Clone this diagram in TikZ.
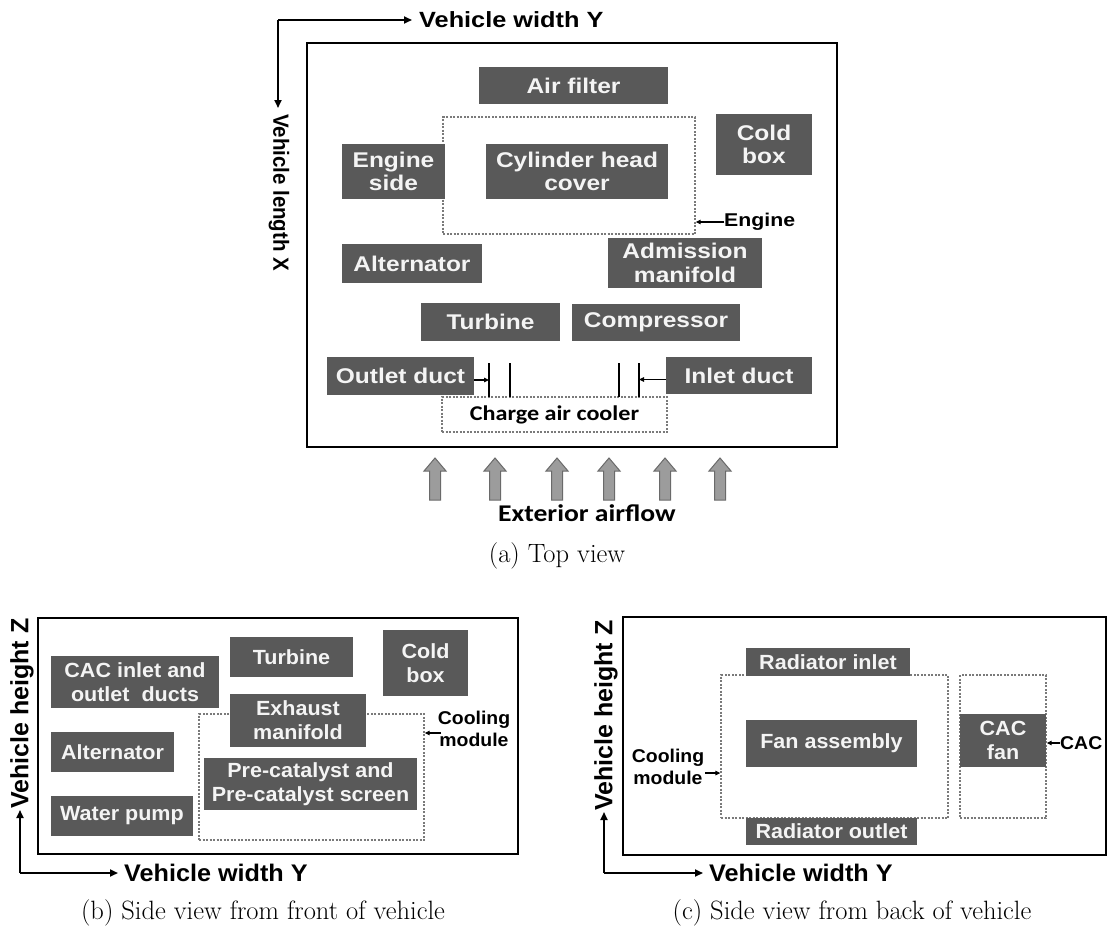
\documentclass[tikz,border=0pt]{standalone}
\usepackage{fontspec}
\usetikzlibrary{arrows.meta}
\newfontfamily\topfont{Liberation Sans}[FakeStretch=1.15]
\newfontfamily\sidefont{Liberation Sans}[FakeStretch=1.05]
\newfontfamily\rotfont{Liberation Sans}[FakeStretch=0.93]
\newfontfamily\plainsans{Liberation Sans}
\newfontfamily\calfont{Carlito}[FakeStretch=1.15]
\definecolor{boxgray}{HTML}{595959}
\definecolor{boxtext}{HTML}{F4F4F4}
\definecolor{dashgray}{HTML}{7A7A7A}
\definecolor{arrowgray}{HTML}{9C9C9C}
\definecolor{arrowedge}{HTML}{6A6A6A}
\tikzset{
  box/.style={fill=boxgray, text=boxtext, inner sep=0pt, align=center},
  topbox/.style={box, font=\topfont\bfseries\fontsize{21.3}{23.5}\selectfont},
  sidebox/.style={box, font=\sidefont\bfseries\fontsize{20.5}{24}\selectfont},
  dashbox/.style={draw=dashgray, line width=1.3pt, dash pattern=on 2pt off 1.5pt, inner sep=0pt},
  frame/.style={draw=black, line width=2.6pt, inner sep=0pt},
  axis/.style={line width=1.8pt, -{Triangle[length=8pt,width=7pt]}},
  ptr/.style={line width=1.2pt, -{Triangle[length=5pt,width=4.5pt]}},
  toplab/.style={font=\topfont\bfseries\fontsize{22}{25}\selectfont, inner sep=0pt},
  toprot/.style={font=\rotfont\bfseries\fontsize{22}{25}\selectfont, inner sep=0pt},
  sidelab/.style={font=\sidefont\bfseries\fontsize{24}{27}\selectfont, inner sep=0pt},
  siderot/.style={font=\plainsans\bfseries\fontsize{25}{28}\selectfont, inner sep=0pt},
  smalllab/.style={font=\sidefont\bfseries\fontsize{18.5}{22}\selectfont, inner sep=0pt, align=center},
  caltext/.style={font=\calfont\bfseries\fontsize{21}{25}\selectfont, inner sep=0pt},
  caption/.style={font=\fontsize{26.5}{30}\selectfont, inner sep=0pt},
  duct/.style={line width=1.6pt}
}
\begin{document}
\begin{tikzpicture}[x=1pt,y=-1pt]
\useasboundingbox (0,0) rectangle (1108,929);

% ================= (a) Top view =================
\node[frame, minimum width=530, minimum height=404] (outerA) at (572,245) {};
\coordinate (axA) at (278,20);
\draw[axis] (axA) -- (412,20);
\draw[axis] (axA) -- (278,108);
\node[toplab, anchor=west] (wA) at (419,20) {Vehicle width Y};
\node[toprot, anchor=west, rotate=-90] (lA) at (279,114) {Vehicle length X};

\node[dashbox, minimum width=252, minimum height=117] (engine) at (569,175.5) {};
\node[topbox, minimum width=189, minimum height=37] (airfilter) at (573.5,85.5) {Air filter};
\node[topbox, minimum width=103, minimum height=55] (engside) at (393.5,171.5) {Engine\\side};
\node[topbox, minimum width=182, minimum height=55] (cyl) at (577,171.5) {Cylinder head\\cover};
\node[topbox, minimum width=96, minimum height=61] (coldA) at (764,144.5) {Cold\\box};
\node[font=\topfont\bfseries\fontsize{18.5}{22}\selectfont, inner sep=0pt, anchor=west] (englab) at (724,222) {Engine};
\draw[ptr] (englab.west) -- (englab.west -| engine.east);
\node[topbox, minimum width=140, minimum height=39] (altA) at (412,263.5) {Alternator};
\node[topbox, minimum width=154, minimum height=50] (adm) at (685,263) {Admission\\manifold};
\node[topbox, minimum width=139, minimum height=38] (turbA) at (490.5,322) {Turbine};
\node[topbox, minimum width=168, minimum height=37] (comp) at (656,322.5) {Compressor};
\node[topbox, minimum width=147, minimum height=38] (outlet) at (400.5,376) {Outlet duct};
\node[topbox, minimum width=146, minimum height=37] (inlet) at (739,375.5) {Inlet duct};
\node[dashbox, minimum width=225, minimum height=35, caltext] (cac) at (554.5,414.5) {Charge air cooler};

\coordinate (d1t) at (489,363); \coordinate (d1b) at (489,397);
\coordinate (d2t) at (510,363); \coordinate (d2b) at (510,397);
\coordinate (d3t) at (619,363); \coordinate (d3b) at (619,397);
\coordinate (d4t) at (639,363); \coordinate (d4b) at (639,397);
\draw[duct] (d1t) -- (d1b);
\draw[duct] (d2t) -- (d2b);
\draw[duct] (d3t) -- (d3b);
\draw[duct] (d4t) -- (d4b);
\draw[ptr] ([yshift=-4pt]outlet.east) -- ([yshift=-4pt]outlet.east -| d1t);
\draw[ptr] ([yshift=-4pt]inlet.west) -- ([yshift=-4pt]inlet.west -| d4t);

\foreach \x in {435,495,557,609,665,720}{
  \draw[fill=arrowgray, draw=arrowedge, line width=1pt, line join=miter]
    (\x-5.5,500) -- (\x-5.5,471) -- (\x-11,471) -- (\x,458) -- (\x+11,471) -- (\x+5.5,471) -- (\x+5.5,500) -- cycle;
}
\node[caltext, font=\calfont\bfseries\fontsize{24}{28}\selectfont] (airflow) at (587,513) {Exterior airflow};
\node[caption] (capA) at (557,556) {(a) Top view};

% ================= (b) Side view from front =================
\node[frame, minimum width=480, minimum height=236] (outerB) at (278,736) {};
\coordinate (axB) at (20,873);
\draw[axis] (axB) -- (20,810);
\draw[axis] (axB) -- (118,873);
\node[sidelab, anchor=west] (wB) at (124,873) {Vehicle width Y};
\node[siderot, anchor=west, rotate=90] (hB) at (22,809) {Vehicle height Z};

\node[dashbox, minimum width=225, minimum height=126] (coolB) at (311.5,777) {};
\node[sidebox, minimum width=168, minimum height=52] (cacducts) at (135,682) {CAC inlet and\\outlet\ \ ducts};
\node[sidebox, minimum width=123, minimum height=40] (turbB) at (291.5,657) {Turbine};
\node[sidebox, minimum width=85, minimum height=66] (coldB) at (425.5,663) {Cold\\box};
\node[sidebox, minimum width=136, minimum height=53] (exh) at (298,720.5) {Exhaust\\manifold};
\node[sidebox, minimum width=123, minimum height=40] (altB) at (112.5,752) {Alternator};
\node[sidebox, minimum width=142, minimum height=40] (water) at (122,816) {Water pump};
\node[sidebox, minimum width=213, minimum height=52] (precat) at (310.5,784) {Pre-catalyst and\\Pre-catalyst screen};
\node[smalllab] (coolBlab) at (474,729) {Cooling\\module};
\coordinate (coolBarr) at (441,733);
\draw[ptr] (coolBarr) -- (coolBarr -| coolB.east);
\node[caption] (capB) at (263,913) {(b) Side view from front of vehicle};

% ================= (c) Side view from back =================
\node[frame, minimum width=483, minimum height=238] (outerC) at (864.5,736) {};
\coordinate (axC) at (604,873);
\draw[axis] (axC) -- (604,812);
\draw[axis] (axC) -- (703,873);
\node[sidelab, anchor=west] (wC) at (709,873) {Vehicle width Y};
\node[siderot, anchor=west, rotate=90] (hC) at (606,811) {Vehicle height Z};

\node[dashbox, minimum width=227, minimum height=143] (coolC) at (834.5,746.5) {};
\node[dashbox, minimum width=86, minimum height=143] (cacC) at (1003,746.5) {};
\node[sidebox, minimum width=164, minimum height=28] (radin) at (828,662) {Radiator inlet};
\node[sidebox, minimum width=171, minimum height=47] (fan) at (831.5,743.5) {Fan assembly};
\node[sidebox, minimum width=171, minimum height=27] (radout) at (831.5,831.5) {Radiator outlet};
\node[sidebox, minimum width=86, minimum height=53] (cacfan) at (1003,740.5) {CAC\\fan};
\node[smalllab, anchor=west] (caclab) at (1060,743) {CAC};
\draw[ptr] (caclab.west) -- (caclab.west -| cacC.east);
\node[smalllab] (coolClab) at (668,767) {Cooling\\module};
\coordinate (coolCarr) at (705,773);
\draw[ptr] (coolCarr) -- (coolCarr -| coolC.west);
\node[caption] (capC) at (852,913) {(c) Side view from back of vehicle};
\end{tikzpicture}
\end{document}
